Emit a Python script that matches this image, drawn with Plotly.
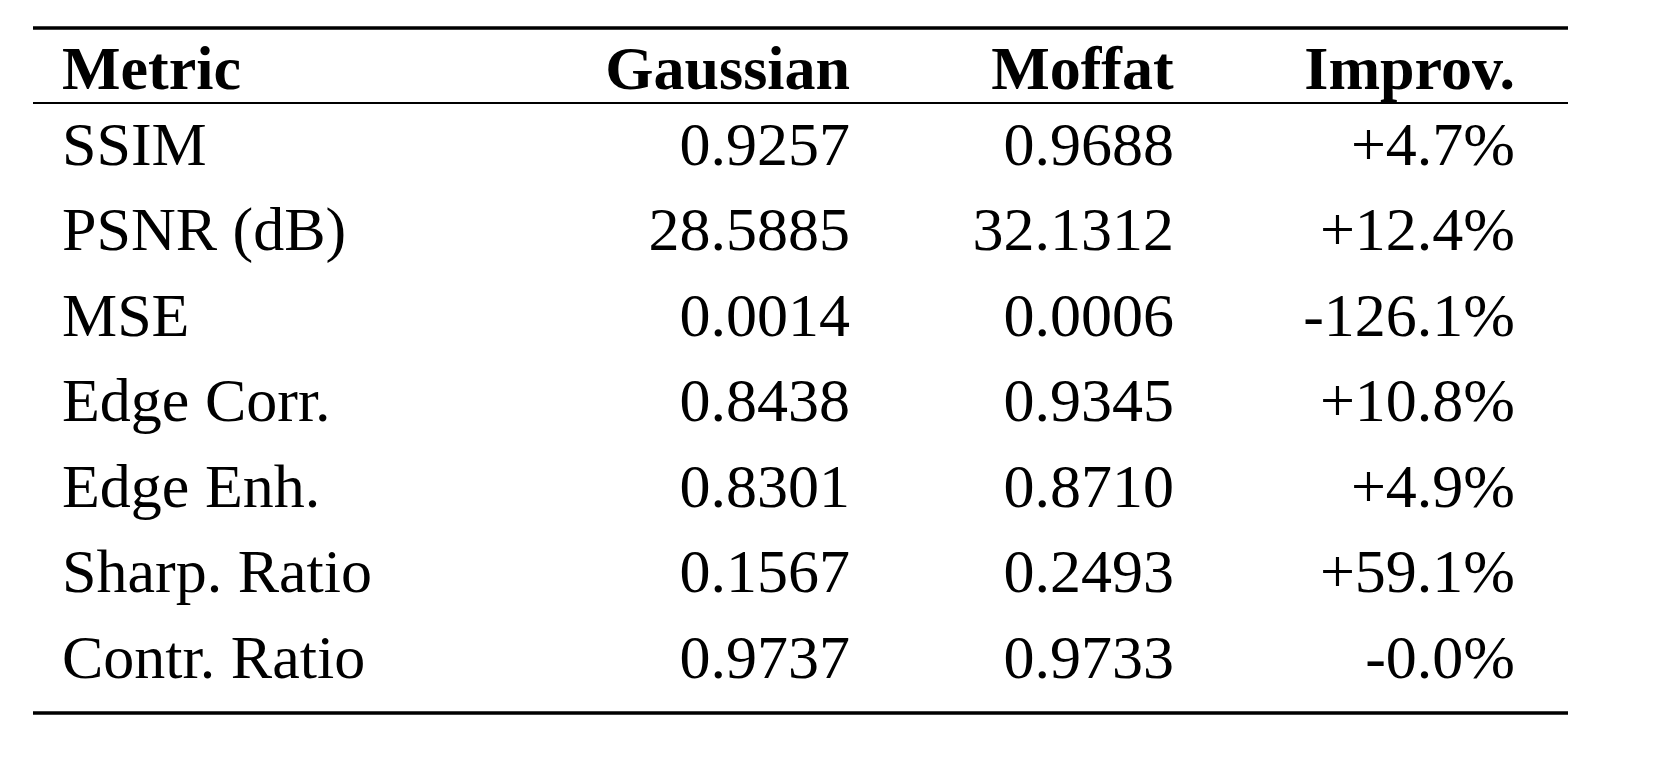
import plotly.graph_objects as go

header = ["<b>Metric</b>", "<b>Gaussian</b>", "<b>Moffat</b>", "<b>Improv.</b>"]
metrics = ["SSIM", "PSNR (dB)", "MSE", "Edge Corr.", "Edge Enh.", "Sharp. Ratio", "Contr. Ratio"]
gaussian = ["0.9257", "28.5885", "0.0014", "0.8438", "0.8301", "0.1567", "0.9737"]
moffat = ["0.9688", "32.1312", "0.0006", "0.9345", "0.8710", "0.2493", "0.9733"]
improv = ["+4.7%", "+12.4%", "-126.1%", "+10.8%", "+4.9%", "+59.1%", "-0.0%"]

W, H = 1661, 759
FONT = "Liberation Serif"

fig = go.Figure(go.Table(
    domain=dict(x=[46 / W, 1515 / W], y=[0, 1 - 18 / H]),
    columnwidth=[474, 330, 324, 341],
    header=dict(values=header, align=["left", "right", "right", "right"],
                height=74, fill_color="white", line_width=0,
                font=dict(family=FONT, size=62, color="black")),
    cells=dict(values=[metrics, gaussian, moffat, improv],
               align=["left", "right", "right", "right"],
               height=85.5, fill_color="white", line_width=0,
               font=dict(family=FONT, size=62, color="black")),
))

# booktabs rules
for y, w in [(20, 3.5), (95, 2), (705, 3.5)]:
    fig.add_shape(type="line", xref="paper", yref="paper",
                  x0=25 / W, x1=1560 / W, y0=1 - y / H, y1=1 - y / H,
                  line=dict(color="black", width=w))

fig.update_layout(width=W, height=H, margin=dict(l=0, r=0, t=0, b=0),
                  paper_bgcolor="white", plot_bgcolor="white")
fig.write_html("out.html")
